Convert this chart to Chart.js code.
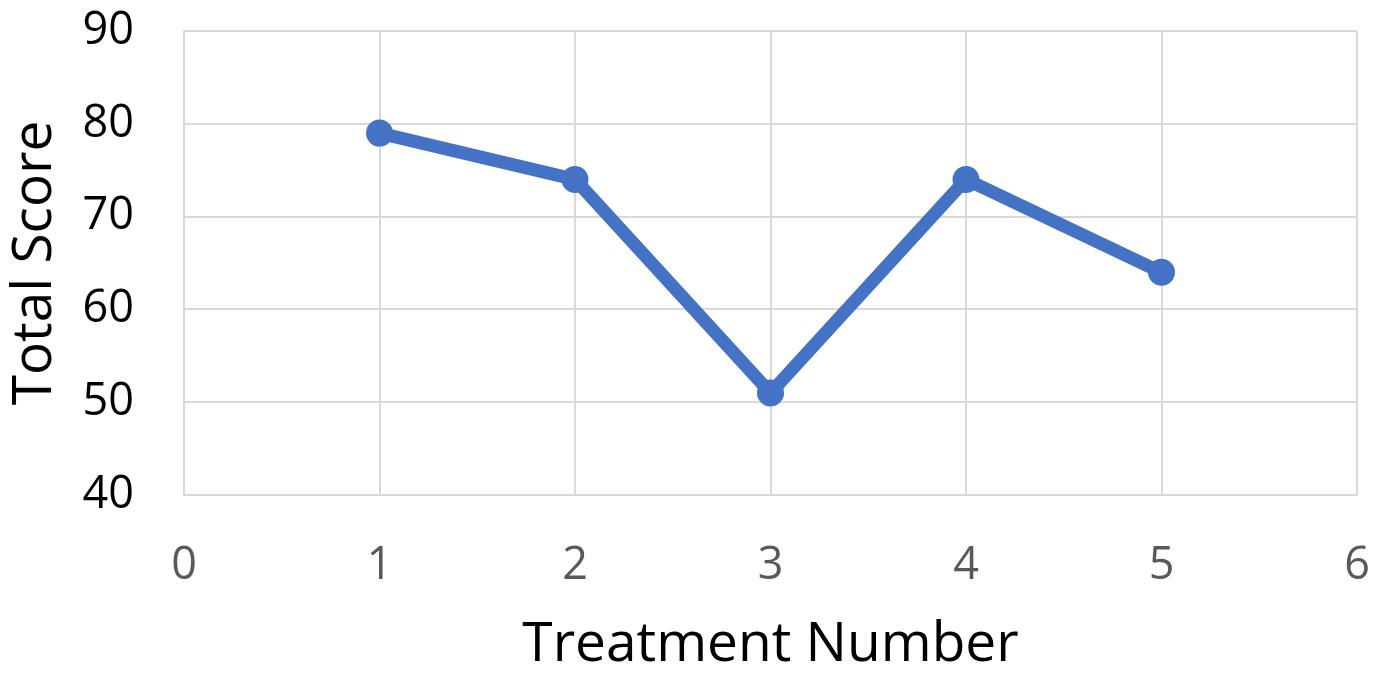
<!DOCTYPE html>
<html>
<head>
<meta charset="utf-8">
<script src="https://cdn.jsdelivr.net/npm/chart.js@4"></script>
<style>
  html, body { margin: 0; padding: 0; background: #fff; }
  #wrap { width: 1386px; height: 673px; }
</style>
</head>
<body>
<div id="wrap"><canvas id="chart01"></canvas></div>
<script>
// chart values
var treatments = [1, 2, 3, 4, 5];
var scores = [79, 74, 51, 74, 64];
var xTicks = [0, 1, 2, 3, 4, 5, 6];
var yTicks = [40, 50, 60, 70, 80, 90];

var FONT = "'Open Sans', sans-serif";
var GRID = '#d9d9d9';

function chartLine (chart_id) {
  var el = document.getElementById(chart_id);
  if (!el) {
    return;
  }
  var ctx = el.getContext('2d');

  var points = treatments.map(function (t, i) {
    return { x: t, y: scores[i] };
  });

  new Chart(ctx, {
    type: 'line',
    data: {
      datasets: [{
        label: 'Total Score',
        data: points,
        borderColor: '#4472C4',
        backgroundColor: '#4472C4',
        borderWidth: 13,
        pointRadius: 13.5,
        pointHoverRadius: 13.5,
        pointBorderWidth: 0,
        tension: 0,
        fill: false
      }]
    },
    options: {
      responsive: true,
      maintainAspectRatio: false,
      animation: false,
      layout: {
        padding: { left: 8, right: 29, top: 31, bottom: 0 }
      },
      plugins: {
        legend: { display: false },
        tooltip: { enabled: false }
      },
      scales: {
        x: {
          type: 'linear',
          min: xTicks[0],
          max: xTicks[xTicks.length - 1],
          afterBuildTicks: function (axis) {
            axis.ticks = xTicks.map(function (v) { return { value: v }; });
          },
          afterFit: function (axis) {
            // plot bottom sits at y=495
            axis.height = 178;
            axis.paddingLeft = 0;
            axis.paddingRight = 0;
          },
          grid: { color: GRID, lineWidth: 2, drawTicks: false },
          border: { color: GRID, width: 2 },
          ticks: {
            color: '#595959',
            padding: 44,
            maxRotation: 0,
            font: { family: FONT, size: 45 }
          },
          title: {
            display: true,
            text: 'Treatment Number',
            color: '#000',
            padding: 0,
            font: { family: FONT, size: 55, lineHeight: 1.0 }
          }
        },
        y: {
          min: yTicks[0],
          max: yTicks[yTicks.length - 1],
          afterBuildTicks: function (axis) {
            axis.ticks = yTicks.map(function (v) { return { value: v }; });
          },
          afterFit: function (axis) {
            // plot left sits at x=184
            axis.width = 176;
            axis.paddingTop = 0;
            axis.paddingBottom = 0;
          },
          grid: { color: GRID, lineWidth: 2, drawTicks: false },
          border: { color: GRID, width: 2 },
          ticks: {
            color: '#000',
            padding: 50,
            font: { family: FONT, size: 45 }
          },
          title: {
            display: true,
            text: 'Total Score',
            color: '#000',
            padding: 0,
            font: { family: FONT, size: 55, lineHeight: 1.0 }
          }
        }
      }
    }
  });
}

chartLine('chart01');
</script>
</body>
</html>
